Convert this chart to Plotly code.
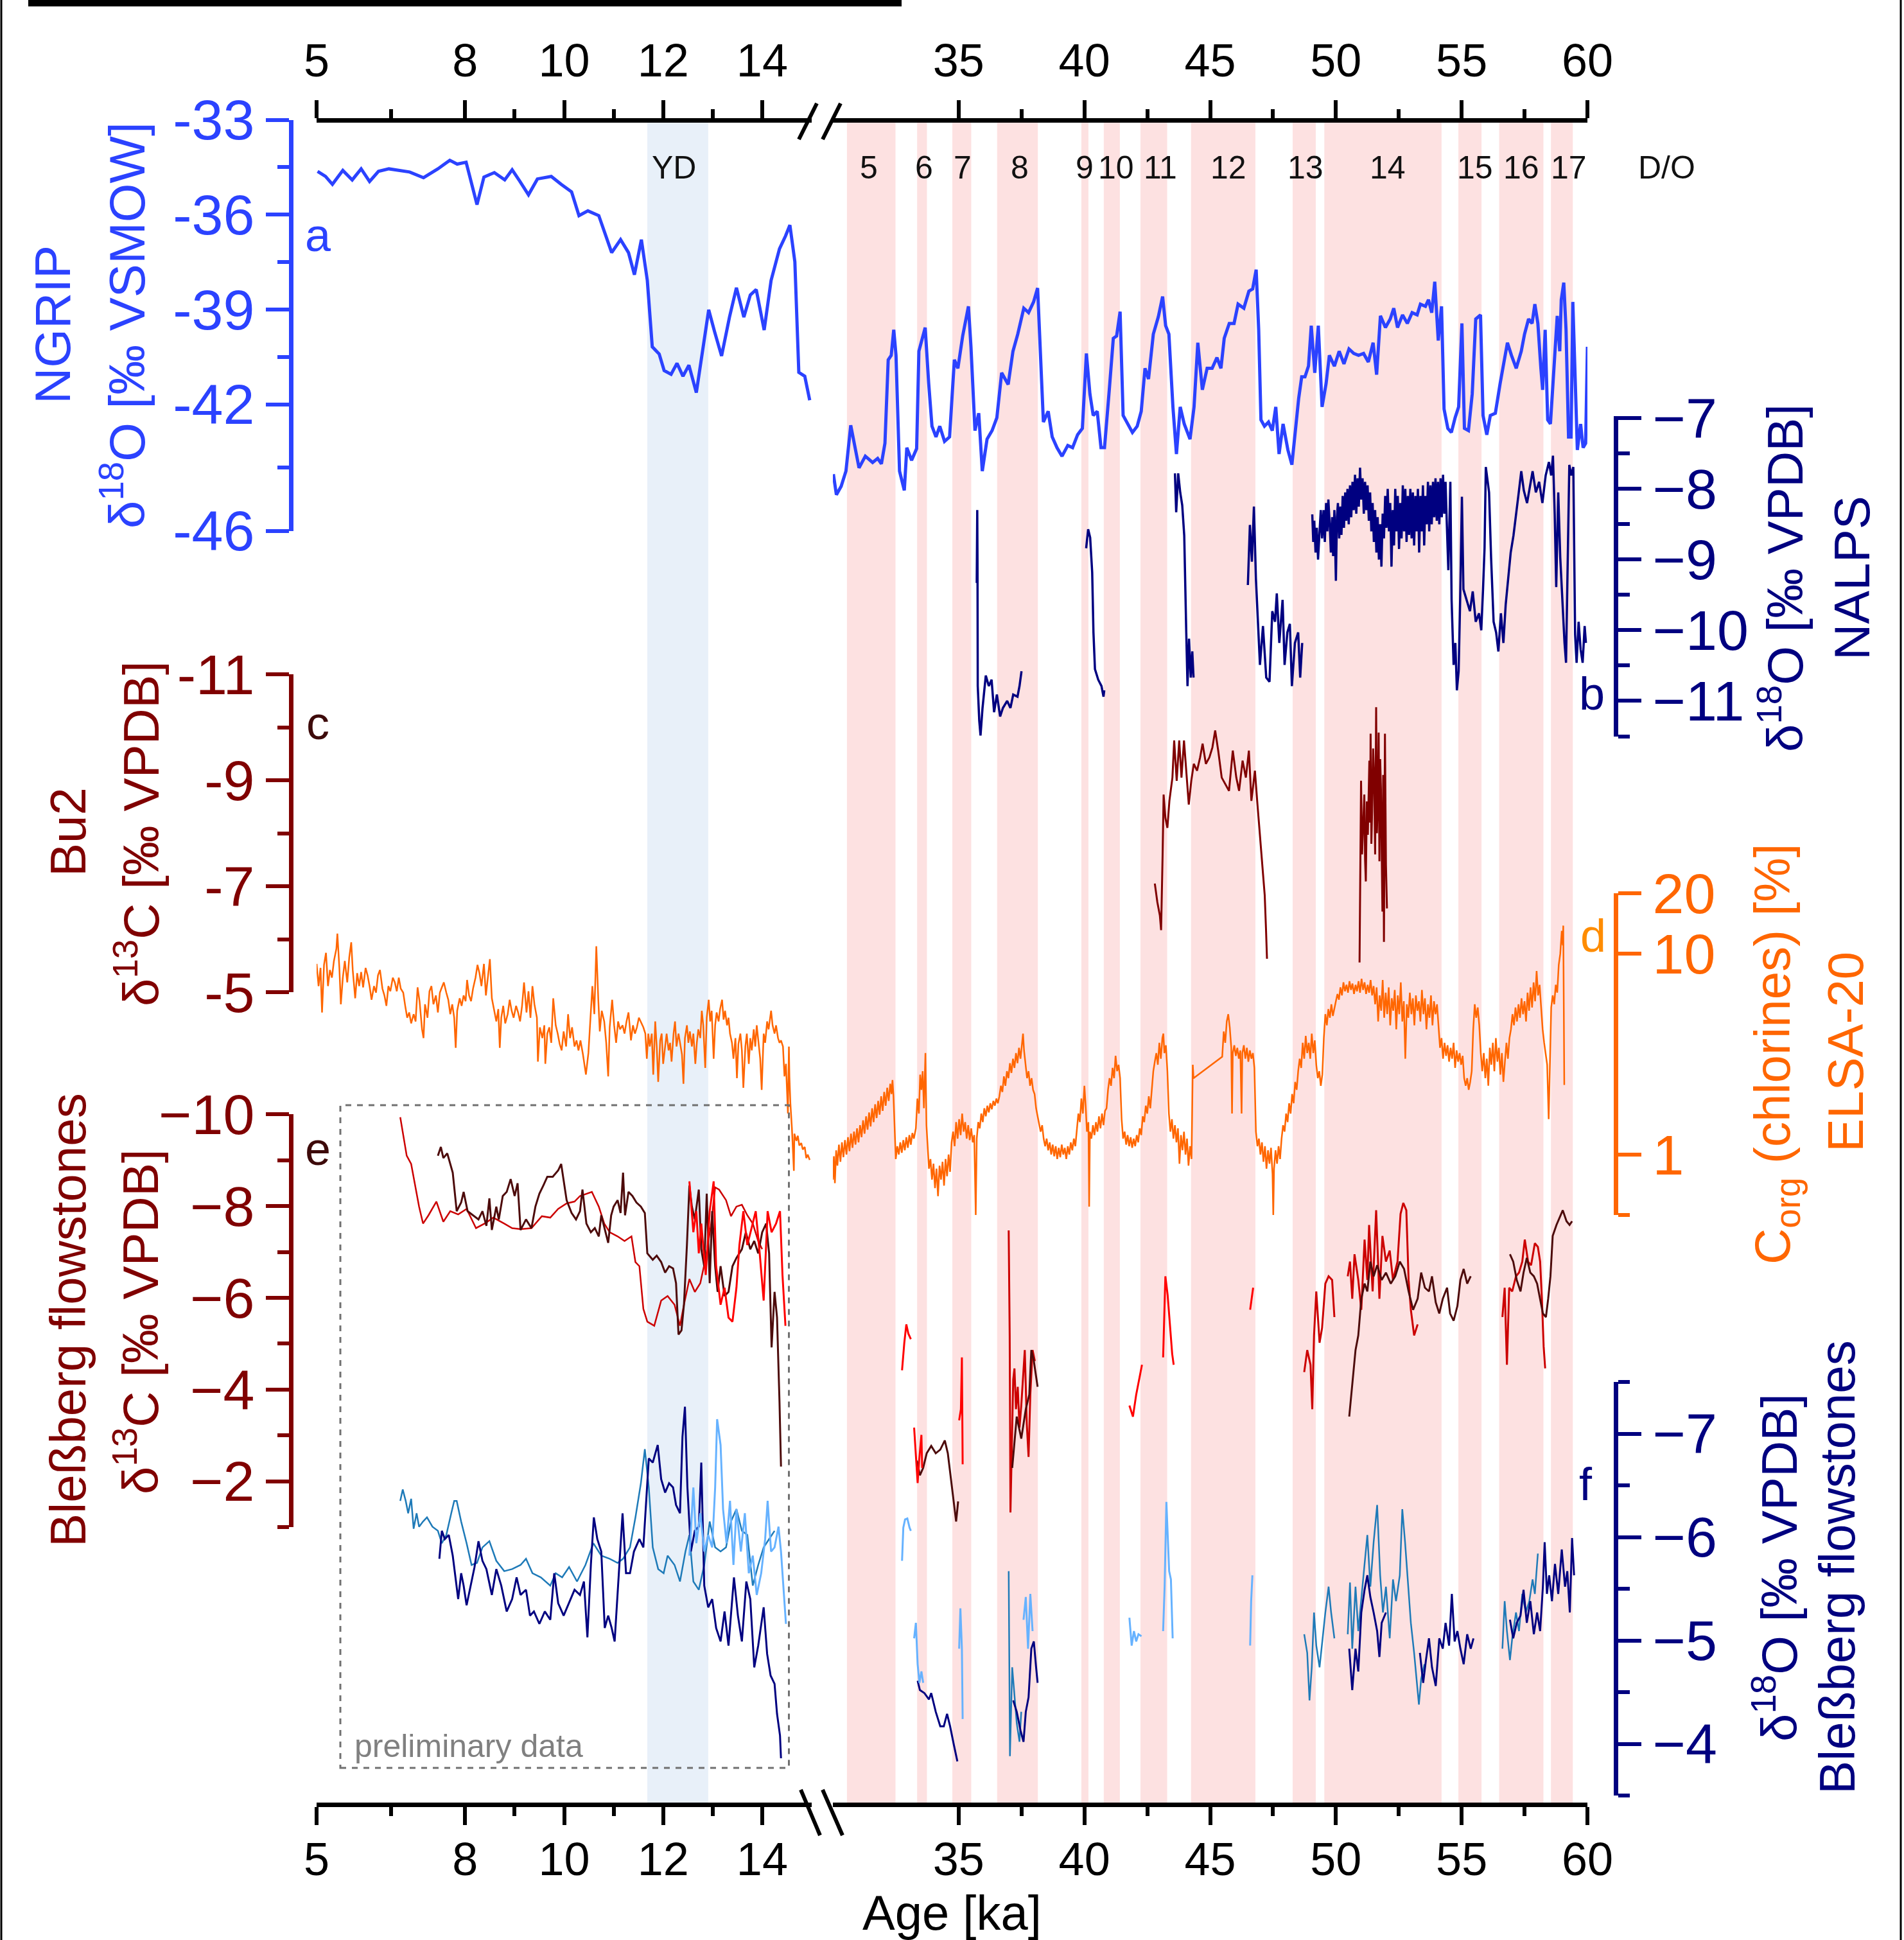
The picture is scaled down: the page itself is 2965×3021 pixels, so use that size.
import plotly.graph_objects as go

# ---------------- DATA (age in ka, value) ----------------
NGRIP_LEFT = [(5.02,-34.63),(5.18,-34.79),(5.32,-35.04),(5.53,-34.6),(5.72,-34.9),(5.9,-34.55),(6.07,-34.95),(6.25,-34.63),(6.46,-34.55),(6.67,-34.6),(6.88,-34.65),(7.16,-34.83),(7.45,-34.55),(7.69,-34.28),(7.84,-34.4),(8.02,-34.34),(8.14,-35.04),(8.24,-35.68),(8.38,-34.81),(8.59,-34.67),(8.8,-34.9),(8.95,-34.58),(9.1,-34.93),(9.28,-35.37),(9.46,-34.87),(9.74,-34.79),(9.94,-35.04),(10.15,-35.28),(10.3,-36.03),(10.48,-35.88),(10.7,-36.03),(10.84,-36.68),(10.96,-37.2),(11.14,-36.79),(11.3,-37.2),(11.42,-37.9),(11.56,-36.79),(11.68,-38.08),(11.78,-40.18),(11.92,-40.41),(12.02,-40.93),(12.16,-41.05),(12.28,-40.7),(12.4,-41.11),(12.52,-40.76),(12.67,-41.63),(12.79,-40.41),(12.92,-39.01),(13.04,-39.71),(13.18,-40.47),(13.34,-39.24),(13.48,-38.31),(13.63,-39.24),(13.76,-38.54),(13.88,-38.37),(14.04,-39.65),(14.18,-38.08),(14.35,-37.08),(14.47,-36.68),(14.56,-36.33),(14.66,-37.49),(14.74,-40.99),(14.86,-41.11),(14.96,-41.87)]

NGRIP_RIGHT = [(30.02,-44.21),(30.14,-44.86),(30.33,-44.59),(30.52,-44.11),(30.71,-42.66),(30.91,-43.44),(31.04,-44.01),(31.29,-43.64),(31.58,-43.84),(31.78,-43.71),(31.93,-43.88),(32.07,-43.23),(32.2,-40.59),(32.32,-40.45),(32.42,-39.64),(32.51,-40.45),(32.65,-44.11),(32.84,-44.72),(32.94,-43.37),(33.13,-43.77),(33.33,-43.4),(33.42,-40.32),(33.56,-39.91),(33.67,-39.57),(33.81,-41.34),(33.94,-42.69),(34.1,-43.03),(34.25,-42.69),(34.44,-43.17),(34.64,-43.03),(34.83,-40.59),(34.97,-40.86),(35.16,-39.84),(35.39,-38.9),(35.49,-40.18),(35.65,-42.83),(35.8,-42.28),(35.94,-44.11),(36.13,-43.1),(36.33,-42.83),(36.52,-42.42),(36.71,-41.0),(36.97,-41.37),(37.16,-40.32),(37.35,-39.78),(37.59,-38.96),(37.78,-39.1),(37.98,-38.76),(38.14,-38.32),(38.27,-40.79),(38.37,-42.56),(38.56,-42.22),(38.72,-43.03),(38.91,-43.37),(39.11,-43.64),(39.34,-43.3),(39.53,-43.37),(39.73,-42.96),(39.92,-42.76),(40.08,-40.39),(40.22,-41.67),(40.35,-42.35),(40.51,-42.22),(40.66,-43.37),(40.8,-43.37),(40.99,-41.54),(41.15,-39.91),(41.28,-39.84),(41.42,-39.07),(41.54,-42.35),(41.71,-42.62),(41.91,-42.89),(42.1,-42.69),(42.26,-42.22),(42.41,-40.86),(42.55,-41.2),(42.74,-39.78),(42.94,-39.23),(43.11,-38.59),(43.23,-39.51),(43.36,-39.78),(43.52,-42.08),(43.66,-43.57),(43.81,-42.08),(43.97,-42.62),(44.2,-43.1),(44.36,-42.08),(44.51,-40.05),(44.69,-41.54),(44.88,-40.86),(45.08,-40.86),(45.27,-40.52),(45.43,-40.86),(45.56,-39.91),(45.76,-39.44),(45.95,-39.44),(46.11,-38.83),(46.34,-38.96),(46.54,-38.42),(46.69,-38.35),(46.83,-37.74),(46.93,-39.64),(47.02,-42.49),(47.16,-42.69),(47.32,-42.56),(47.47,-42.83),(47.61,-42.08),(47.74,-43.57),(47.9,-42.62),(48.09,-43.44),(48.25,-43.91),(48.38,-42.83),(48.52,-41.81),(48.64,-41.13),(48.77,-41.13),(48.91,-40.79),(49.02,-39.51),(49.16,-41.0),(49.3,-39.51),(49.45,-42.08),(49.61,-41.34),(49.74,-40.45),(49.94,-40.79),(50.13,-40.32),(50.32,-40.72),(50.52,-40.25),(50.71,-40.39),(50.9,-40.45),(51.1,-40.39),(51.29,-40.66),(51.48,-40.05),(51.62,-41.06),(51.77,-39.2),(51.97,-39.57),(52.16,-39.3),(52.3,-38.96),(52.45,-39.57),(52.65,-39.17),(52.84,-39.44),(53.03,-39.1),(53.23,-39.17),(53.36,-38.83),(53.56,-38.9),(53.68,-38.69),(53.81,-39.1),(53.93,-38.12),(54.07,-39.98),(54.2,-38.9),(54.3,-42.15),(54.45,-42.76),(54.59,-42.89),(54.74,-42.42),(54.88,-42.08),(55.01,-39.44),(55.11,-42.76),(55.27,-42.83),(55.42,-41.67),(55.56,-39.3),(55.75,-39.17),(55.85,-42.35),(56.0,-42.96),(56.14,-42.35),(56.34,-42.28),(56.53,-41.34),(56.69,-40.66),(56.82,-40.05),(56.98,-40.45),(57.17,-40.86),(57.37,-40.32),(57.5,-39.78),(57.66,-39.3),(57.8,-39.44),(57.91,-38.83),(58.03,-39.44),(58.15,-40.86),(58.22,-41.54),(58.32,-39.64),(58.42,-42.49),(58.53,-42.62),(58.67,-40.66),(58.8,-39.2),(58.9,-40.32),(58.96,-38.69),(59.06,-38.15),(59.15,-39.64),(59.25,-43.03),(59.35,-43.03),(59.42,-38.76),(59.5,-40.66),(59.6,-43.44),(59.73,-42.62),(59.83,-43.37),(59.93,-43.23),(60.0,-40.18)]

NALPS = [(35.72,-9.33),(35.74,-8.3),(35.75,-9.03),(35.76,-10.79),(35.82,-11.28),(35.87,-11.49),(35.95,-11.1),(36.08,-10.64),(36.2,-10.79),(36.31,-10.7),(36.41,-11.16),(36.52,-10.91),(36.65,-11.22),(36.76,-11.1),(36.93,-11.0),(37.06,-11.1),(37.17,-10.91),(37.34,-10.94),(37.42,-10.79),(37.5,-10.58),
         (None,None),
         (40.07,-8.84),(40.15,-8.57),(40.23,-8.69),(40.31,-9.18),(40.36,-10.03),(40.42,-10.55),(40.55,-10.7),(40.68,-10.79),(40.76,-10.94),(40.79,-10.85),
         (None,None),
         (43.6,-7.78),(43.65,-8.33),(43.73,-7.78),(43.81,-8.05),(43.89,-8.23),(43.97,-8.66),(44.05,-10.03),(44.1,-10.79),(44.16,-10.12),(44.23,-10.67),(44.29,-10.3),(44.34,-10.67),
         (None,None),
         (46.5,-9.36),(46.58,-8.51),(46.66,-9.03),(46.74,-8.25),(46.82,-9.27),(46.9,-9.88),(46.98,-10.49),(47.1,-9.94),(47.23,-10.67),(47.36,-10.73),(47.47,-9.73),(47.58,-9.88),(47.65,-9.48),(47.75,-10.18),(47.88,-9.57),(47.96,-10.49),(48.07,-10.03),(48.17,-9.91),(48.25,-10.79),(48.37,-10.18),(48.5,-10.03),(48.58,-10.67),(48.66,-10.18),
         (None,None),
         (49.06,-8.36),(49.10,-8.75),(49.14,-8.45),(49.19,-8.9),(49.24,-8.55),(49.29,-9.0),(49.35,-8.6),(49.40,-8.3),(49.45,-8.7),(49.51,-8.3),(49.56,-8.75),(49.61,-8.2),(49.66,-8.6),(49.70,-8.15),(49.76,-8.55),(49.80,-8.9),(49.85,-8.4),(49.89,-8.95),(49.94,-8.3),(50.0,-9.3),(50.04,-8.4),(50.08,-8.2),(50.13,-8.7),(50.18,-8.25),(50.22,-8.65),(50.27,-8.1),(50.32,-8.55),(50.37,-8.05),(50.41,-8.45),(50.46,-8.0),(50.51,-8.5),(50.56,-7.95),(50.61,-8.4),(50.66,-7.9),(50.71,-8.3),(50.76,-7.8),(50.81,-8.35),(50.86,-7.85),(50.91,-8.25),(50.96,-7.7),(51.01,-8.15),(51.06,-7.85),(51.11,-8.35),(51.16,-7.9),(51.21,-8.3),(51.26,-7.95),(51.31,-8.45),(51.36,-8.05),(51.41,-8.6),(51.46,-8.2),(51.51,-8.75),(51.56,-8.3),(51.61,-8.9),(51.66,-8.4),(51.71,-9.0),(51.76,-8.5),(51.81,-9.1),(51.86,-8.35),(51.91,-8.7),(51.96,-8.1),(52.01,-8.55),(52.06,-8.0),(52.11,-8.6),(52.16,-8.2),(52.21,-9.1),(52.26,-8.3),(52.31,-8.8),(52.36,-8.0),(52.41,-8.6),(52.46,-8.1),(52.51,-8.85),(52.56,-8.2),(52.61,-8.7),(52.66,-7.95),(52.71,-8.6),(52.76,-8.0),(52.81,-8.75),(52.86,-8.1),(52.91,-8.65),(52.96,-8.0),(53.01,-8.7),(53.06,-8.05),(53.11,-8.8),(53.16,-8.1),(53.21,-8.6),(53.26,-8.0),(53.31,-8.9),(53.36,-8.1),(53.41,-8.6),(53.46,-7.95),(53.51,-8.8),(53.56,-8.1),(53.61,-8.5),(53.66,-7.9),(53.71,-8.6),(53.76,-7.95),(53.81,-8.5),(53.86,-7.9),(53.91,-8.4),(53.96,-7.85),(54.01,-8.45),(54.06,-7.9),(54.11,-8.5),(54.16,-7.85),(54.21,-8.4),(54.26,-7.8),(54.31,-8.35),(54.36,-7.9),(54.41,-8.5),(54.47,-9.15),(54.55,-7.9),(54.6,-9.57),(54.68,-10.49),(54.75,-10.18),(54.81,-10.85),(54.88,-10.58),(54.94,-9.57),(55.01,-8.11),(55.07,-9.42),(55.2,-9.57),(55.33,-9.73),(55.44,-9.45),(55.56,-9.88),(55.69,-9.76),(55.78,-10.0),(55.85,-9.42),(55.91,-8.84),(55.96,-7.69),(56.03,-7.9),(56.09,-8.05),(56.17,-8.97),(56.27,-9.88),(56.37,-10.03),(56.46,-10.3),(56.56,-9.76),(56.66,-10.18),(56.75,-9.64),(56.85,-9.27),(56.95,-8.9),(57.06,-8.66),(57.17,-8.36),(57.27,-8.05),(57.37,-7.75),(57.47,-8.02),(57.6,-8.2),(57.71,-7.99),(57.82,-7.75),(57.95,-8.05),(58.08,-7.9),(58.21,-8.2),(58.34,-7.81),(58.47,-7.62),(58.56,-7.81),(58.63,-7.53),(58.7,-8.36),(58.76,-9.39),(58.84,-8.05),(58.92,-8.97),(59.0,-9.57),(59.09,-10.18),(59.15,-10.46),(59.22,-9.15),(59.28,-7.66),(59.36,-7.81),(59.44,-7.69),(59.51,-10.06),(59.57,-10.46),(59.65,-9.88),(59.73,-10.27),(59.81,-10.46),(59.89,-9.94),(59.94,-10.18)]

BU2 = [(42.8,-7.05),(42.9,-6.7),(43.0,-6.45),(43.05,-6.17),(43.11,-7.59),(43.15,-8.73),(43.22,-8.29),(43.3,-8.1),(43.38,-8.61),(43.5,-9.05),(43.57,-9.75),(43.67,-8.99),(43.77,-9.75),(43.86,-9.05),(43.96,-9.75),(44.06,-9.12),(44.15,-8.54),(44.25,-8.99),(44.35,-9.31),(44.48,-9.18),(44.6,-9.43),(44.7,-9.69),(44.83,-9.31),(44.97,-9.43),(45.09,-9.62),(45.2,-9.94),(45.32,-9.56),(45.46,-9.05),(45.61,-8.92),(45.75,-8.8),(45.9,-9.56),(46.04,-9.05),(46.15,-8.8),(46.29,-9.37),(46.42,-9.05),(46.54,-9.56),(46.64,-8.61),(46.78,-9.18),(46.87,-8.61),(46.97,-8.04),(47.07,-7.47),(47.17,-6.83),(47.22,-6.2),(47.26,-5.63),
       (None,None),
       (50.94,-5.56),(51.0,-8.99),(51.04,-7.6),(51.08,-8.1),(51.13,-8.73),(51.16,-7.5),(51.19,-7.09),(51.23,-8.6),(51.27,-7.97),(51.33,-9.37),(51.36,-8.2),(51.38,-9.88),(51.41,-7.8),(51.44,-8.42),(51.48,-9.6),(51.52,-9.05),(51.56,-7.6),(51.6,-10.38),(51.63,-8.0),(51.67,-8.73),(51.7,-9.9),(51.73,-7.47),(51.76,-9.4),(51.79,-8.86),(51.82,-7.2),(51.85,-6.52),(51.88,-9.1),(51.91,-5.95),(51.95,-9.88),(51.99,-7.4),(52.03,-6.58)]

ELSA_LEFT = [(5.00,8.9),(5.04,6.9),(5.08,8.5),(5.11,5.1),(5.15,8.8),(5.19,10.1),(5.23,6.9),(5.27,8.3),(5.31,7.6),(5.35,9.2),(5.40,10.6),(5.42,12.6),(5.46,8.5),(5.49,5.6),(5.53,7.6),(5.57,9.2),(5.62,7.2),(5.66,9.6),(5.70,11.4),(5.73,8.3),(5.78,6.0),(5.82,8.0),(5.86,6.9),(5.90,8.1),(5.94,6.8),(5.99,8.5),(6.03,7.8),(6.07,6.9),(6.11,5.9),(6.16,6.9),(6.20,6.4),(6.24,7.8),(6.28,8.3),(6.33,6.7),(6.37,6.2),(6.41,5.5),(6.45,6.9),(6.49,6.5),(6.54,7.6),(6.58,7.2),(6.62,6.5),(6.66,7.6),(6.70,6.7),(6.75,6.4),(6.79,5.5),(6.83,4.8),(6.87,5.1),(6.91,4.5),(6.96,5.0),(7.00,4.6),(7.04,6.8),(7.08,5.8),(7.13,4.2),(7.16,3.8),(7.19,5.6),(7.24,4.8),(7.28,6.5),(7.32,6.9),(7.36,5.6),(7.41,6.2),(7.45,5.1),(7.49,6.4),(7.53,6.8),(7.57,7.2),(7.62,6.4),(7.66,5.9),(7.70,5.0),(7.74,5.6),(7.78,4.8),(7.81,3.4),(7.84,5.2),(7.89,6.0),(7.93,5.5),(7.97,6.2),(8.01,5.8),(8.04,7.4),(8.08,6.2),(8.12,5.8),(8.16,6.7),(8.21,7.6),(8.25,8.8),(8.29,8.0),(8.33,6.9),(8.38,8.9),(8.42,6.2),(8.46,7.6),(8.50,9.4),(8.54,6.0),(8.59,5.1),(8.63,4.6),(8.67,5.3),(8.70,3.4),(8.73,4.8),(8.77,5.5),(8.81,4.5),(8.86,5.0),(8.90,5.9),(8.94,5.2),(8.98,4.8),(9.03,5.5),(9.07,5.1),(9.11,4.6),(9.15,5.5),(9.19,7.2),(9.24,5.1),(9.28,6.5),(9.32,4.8),(9.36,6.9),(9.40,5.6),(9.45,4.8),(9.47,2.9),(9.51,4.3),(9.56,3.8),(9.60,4.4),(9.62,2.83),(9.66,4.0),(9.70,4.3),(9.74,3.6),(9.78,6.0),(9.83,4.4),(9.87,4.0),(9.91,3.55),(9.95,3.3),(9.99,4.1),(10.04,3.45),(10.08,5.0),(10.12,3.8),(10.16,4.3),(10.21,3.45),(10.25,3.7),(10.29,3.3),(10.33,3.7),(10.38,3.15),(10.42,2.7),(10.44,2.5),(10.49,3.2),(10.53,4.8),(10.57,6.9),(10.61,5.0),(10.65,10.9),(10.69,5.9),(10.72,4.1),(10.76,5.2),(10.81,4.6),(10.85,3.6),(10.89,2.45),(10.92,4.3),(10.97,5.9),(11.01,4.4),(11.05,3.6),(11.09,4.6),(11.13,4.2),(11.18,4.4),(11.22,4.0),(11.26,4.6),(11.30,5.1),(11.35,3.7),(11.39,4.4),(11.43,4.0),(11.47,4.3),(11.51,4.8),(11.56,4.5),(11.60,4.3),(11.64,4.0),(11.67,3.0),(11.70,4.0),(11.73,3.45),(11.77,4.0),(11.80,2.5),(11.84,4.6),(11.87,3.45),(11.90,2.3),(11.94,3.7),(11.97,4.0),(12.00,2.83),(12.04,3.45),(12.07,4.0),(12.11,3.3),(12.14,3.6),(12.17,2.9),(12.21,4.0),(12.24,4.6),(12.27,3.45),(12.31,4.0),(12.34,3.6),(12.38,3.15),(12.41,2.25),(12.44,3.8),(12.48,4.4),(12.51,3.6),(12.54,4.1),(12.58,3.45),(12.61,4.0),(12.65,2.83),(12.68,3.6),(12.71,4.2),(12.75,3.8),(12.78,5.2),(12.81,4.4),(12.85,2.7),(12.88,4.8),(12.92,5.9),(12.95,4.6),(12.98,5.2),(13.02,3.0),(13.05,4.4),(13.08,5.1),(13.12,4.6),(13.15,5.3),(13.19,5.9),(13.22,4.7),(13.25,5.2),(13.29,4.4),(13.32,4.8),(13.35,4.0),(13.39,3.6),(13.42,3.0),(13.46,3.8),(13.49,2.4),(13.52,3.55),(13.56,4.0),(13.59,3.3),(13.62,2.15),(13.66,3.45),(13.69,4.0),(13.73,2.83),(13.76,3.8),(13.79,3.3),(13.83,4.2),(13.86,3.45),(13.89,4.4),(13.93,3.6),(13.96,3.0),(13.99,2.1),(14.03,4.0),(14.06,3.6),(14.10,4.6),(14.13,4.2),(14.16,4.7),(14.18,5.2),(14.21,4.4),(14.25,4.0),(14.28,4.4),(14.32,3.8),(14.35,3.6),(14.38,3.7),(14.42,3.45),(14.45,2.45),(14.48,2.83),(14.50,2.21),(14.52,1.6),(14.54,3.45),(14.55,2.45),(14.57,1.8),(14.60,1.36),(14.64,0.83),(14.65,1.27),(14.69,1.17),(14.72,1.24),(14.75,1.11),(14.79,1.14),(14.82,1.06),(14.86,1.09),(14.89,0.96),(14.92,1.0),(14.96,0.94)]

ELSA_RIGHT = [(30.00,0.75),(30.04,0.98),(30.08,0.72),(30.13,1.05),(30.18,0.88),(30.24,1.12),(30.30,0.92),(30.36,1.15),(30.42,0.97),(30.48,1.18),(30.54,1.00),(30.60,1.22),(30.66,1.04),(30.72,1.27),(30.78,1.08),(30.84,1.30),(30.90,1.12),(30.96,1.35),(31.02,1.15),(31.08,1.40),(31.14,1.22),(31.20,1.48),(31.26,1.27),(31.32,1.55),(31.38,1.33),(31.44,1.62),(31.50,1.38),(31.56,1.70),(31.62,1.45),(31.68,1.78),(31.74,1.52),(31.80,1.85),(31.86,1.58),(31.92,1.95),(31.98,1.65),(32.04,2.05),(32.10,1.75),(32.16,2.15),(32.22,1.85),(32.28,2.25),(32.33,2.00),(32.37,2.35),(32.41,1.95),(32.46,1.20),(32.50,0.95),(32.56,1.10),(32.62,1.00),(32.68,1.15),(32.74,1.02),(32.80,1.18),(32.86,1.05),(32.92,1.22),(32.98,1.08),(33.04,1.25),(33.10,1.12),(33.16,1.28),(33.22,1.20),(33.30,1.35),(33.36,1.90),(33.42,1.60),(33.47,2.50),(33.52,2.10),(33.57,2.60),(33.62,1.70),(33.68,3.20),(33.72,1.40),(33.76,1.10),(33.82,0.85),(33.88,0.95),(33.94,0.75),(34.00,0.90),(34.06,0.68),(34.12,0.85),(34.18,0.62),(34.24,0.88),(34.30,0.75),(34.36,0.92),(34.42,0.70),(34.48,0.95),(34.54,0.78),(34.60,1.00),(34.66,0.82),(34.72,1.15),(34.78,1.30),(34.84,1.10),(34.90,1.45),(34.96,1.20),(35.02,1.50),(35.08,1.25),(35.14,1.60),(35.20,1.30),(35.26,1.45),(35.32,1.20),(35.38,1.40),(35.44,1.18),(35.50,1.35),(35.56,1.15),(35.62,1.25),(35.68,0.50),(35.72,1.20),(35.78,1.45),(35.84,1.35),(35.90,1.60),(35.96,1.45),(36.02,1.70),(36.08,1.55),(36.14,1.75),(36.20,1.62),(36.26,1.80),(36.32,1.68),(36.38,1.85),(36.44,1.75),(36.50,1.90),(36.56,1.80),(36.62,1.95),(36.68,2.20),(36.74,2.05),(36.80,2.45),(36.86,2.20),(36.92,2.60),(36.98,2.40),(37.04,2.85),(37.10,2.55),(37.16,3.00),(37.22,2.70),(37.28,3.20),(37.34,2.85),(37.40,3.40),(37.46,3.00),(37.52,3.60),(37.56,4.00),(37.60,3.30),(37.66,2.80),(37.72,2.40),(37.78,2.60),(37.84,2.20),(37.90,2.40),(37.96,2.10),(38.02,2.00),(38.08,1.70),(38.14,1.55),(38.20,1.40),(38.26,1.30),(38.32,1.40),(38.38,1.20),(38.44,1.10),(38.50,1.20),(38.56,1.05),(38.62,1.15),(38.68,1.00),(38.74,1.12),(38.80,0.98),(38.86,1.10),(38.92,0.95),(38.98,1.08),(39.04,0.97),(39.10,1.12),(39.16,1.00),(39.22,1.08),(39.28,0.95),(39.34,1.10),(39.40,1.00),(39.46,1.15),(39.52,1.05),(39.58,1.20),(39.64,1.10),(39.70,1.35),(39.76,1.60),(39.82,1.45),(39.88,1.90),(39.94,1.60),(40.00,2.20),(40.05,1.75),(40.10,1.30),(40.16,1.45),(40.19,0.55),(40.22,1.30),(40.28,1.20),(40.34,1.40),(40.40,1.25),(40.46,1.45),(40.52,1.30),(40.58,1.55),(40.64,1.35),(40.70,1.60),(40.76,1.40),(40.82,1.65),(40.88,1.70),(40.94,2.10),(41.00,2.40),(41.06,2.20),(41.12,2.70),(41.18,2.40),(41.24,3.10),(41.30,2.60),(41.36,2.80),(41.42,2.40),(41.48,1.50),(41.54,1.20),(41.60,1.30),(41.66,1.12),(41.72,1.25),(41.78,1.10),(41.84,1.22),(41.90,1.08),(41.96,1.20),(42.02,1.10),(42.08,1.25),(42.14,1.15),(42.20,1.35),(42.26,1.25),(42.32,1.55),(42.38,1.45),(42.44,1.75),(42.50,1.60),(42.56,1.95),(42.62,1.70),(42.68,2.10),(42.74,2.60),(42.80,2.90),(42.86,3.20),(42.92,2.80),(42.98,3.60),(43.04,3.00),(43.10,3.80),(43.14,4.00),(43.18,3.20),(43.24,3.50),(43.30,2.60),(43.36,1.60),(43.42,1.30),(43.48,1.50),(43.54,1.20),(43.60,1.40),(43.66,1.15),(43.72,1.35),(43.78,0.90),(43.84,1.25),(43.90,1.05),(43.96,1.30),(44.02,1.00),(44.08,1.20),(44.14,0.88),(44.20,1.10),(44.26,0.95),(44.31,2.80),(44.34,2.40),(45.48,3.07),(45.54,4.10),(45.60,3.60),(45.66,4.60),(45.72,5.00),(45.78,4.30),(45.84,3.40),(45.87,1.60),(45.90,3.20),(45.96,3.50),(46.02,3.10),(46.08,3.40),(46.14,3.00),(46.20,3.30),(46.25,1.60),(46.28,3.20),(46.34,3.50),(46.40,3.00),(46.46,3.40),(46.52,2.90),(46.58,3.30),(46.64,3.00),(46.70,3.20),(46.76,2.70),(46.82,1.30),(46.88,1.10),(46.94,1.20),(47.00,1.00),(47.06,1.15),(47.12,0.92),(47.18,1.10),(47.24,0.85),(47.30,1.05),(47.36,0.90),(47.42,1.08),(47.48,0.80),(47.51,0.50),(47.54,0.85),(47.60,1.05),(47.66,0.90),(47.72,1.10),(47.78,0.95),(47.84,1.20),(47.90,1.40),(47.96,1.30),(48.02,1.60),(48.08,1.45),(48.14,1.80),(48.20,1.60),(48.26,2.00),(48.32,1.80),(48.38,2.30),(48.44,2.10),(48.50,2.60),(48.56,3.00),(48.62,2.70),(48.68,3.60),(48.74,3.00),(48.80,3.90),(48.86,3.20),(48.92,3.60),(48.98,3.00),(49.04,4.00),(49.10,3.20),(49.16,3.70),(49.22,2.80),(49.28,2.40),(49.34,2.60),(49.40,2.20),(49.46,2.50),(49.52,3.80),(49.58,5.00),(49.64,4.40),(49.70,5.30),(49.76,4.80),(49.82,5.60),(49.88,4.90),(49.94,5.40),(50.00,5.80),(50.06,6.30),(50.12,5.90),(50.18,6.80),(50.24,6.20),(50.30,7.20),(50.36,6.50),(50.42,7.00),(50.48,6.40),(50.54,7.30),(50.60,6.60),(50.66,7.10),(50.72,6.30),(50.78,7.00),(50.84,6.50),(50.90,7.30),(50.96,6.40),(51.02,7.50),(51.08,6.60),(51.14,7.20),(51.20,6.30),(51.26,7.00),(51.32,6.40),(51.38,7.40),(51.44,6.20),(51.50,6.90),(51.56,5.60),(51.62,6.80),(51.68,4.60),(51.74,6.20),(51.80,5.20),(51.86,7.40),(51.92,4.80),(51.98,6.40),(52.04,5.00),(52.10,6.80),(52.16,4.40),(52.22,6.00),(52.28,5.20),(52.34,6.60),(52.40,4.20),(52.46,6.20),(52.52,5.00),(52.58,7.20),(52.64,4.60),(52.70,5.80),(52.76,3.00),(52.82,5.60),(52.88,4.80),(52.94,6.40),(53.00,5.00),(53.06,6.00),(53.12,4.40),(53.18,6.20),(53.24,5.20),(53.30,5.80),(53.36,4.60),(53.42,6.60),(53.48,5.00),(53.54,6.00),(53.60,4.20),(53.66,5.60),(53.72,4.80),(53.78,6.20),(53.84,4.40),(53.90,5.80),(53.96,5.00),(54.02,5.60),(54.08,4.20),(54.14,3.40),(54.20,3.80),(54.26,3.00),(54.32,3.60),(54.38,3.10),(54.44,3.50),(54.50,2.90),(54.56,3.40),(54.62,3.00),(54.68,3.60),(54.74,2.70),(54.80,3.30),(54.86,2.90),(54.92,3.20),(54.98,2.80),(55.04,3.10),(55.10,2.40),(55.16,2.20),(55.22,2.40),(55.28,2.10),(55.34,2.30),(55.40,2.60),(55.46,4.20),(55.52,5.60),(55.58,4.80),(55.64,5.40),(55.70,4.40),(55.76,3.20),(55.82,2.60),(55.88,3.20),(55.94,2.40),(56.00,3.00),(56.06,2.20),(56.12,3.40),(56.18,2.80),(56.24,3.60),(56.30,2.60),(56.36,3.80),(56.42,2.90),(56.48,3.40),(56.54,2.50),(56.60,3.20),(56.66,2.30),(56.72,2.90),(56.78,3.60),(56.84,3.00),(56.90,3.80),(56.96,4.20),(57.02,5.00),(57.08,4.40),(57.14,5.40),(57.20,4.60),(57.26,5.60),(57.32,4.80),(57.38,6.00),(57.44,5.00),(57.50,5.80),(57.56,4.60),(57.62,6.40),(57.68,5.20),(57.74,6.80),(57.80,5.40),(57.86,7.20),(57.92,5.80),(57.98,8.20),(58.04,6.20),(58.10,7.00),(58.16,5.40),(58.22,4.20),(58.28,3.60),(58.34,3.20),(58.40,2.80),(58.46,1.50),(58.50,2.80),(58.56,5.40),(58.62,6.20),(58.68,5.60),(58.74,7.00),(58.80,6.40),(58.86,8.80),(58.92,10.0),(58.98,13.0),(59.02,11.0),(59.04,13.8),(59.06,6.00),(59.08,2.22)]

# Blessberg d13C (panel e)
BL_C_RED_L = [(6.69,-9.94),(6.82,-9.1),(6.91,-8.92),(6.99,-8.45),(7.07,-7.99),(7.15,-7.62),(7.26,-7.8),(7.42,-8.1),(7.56,-7.66),(7.7,-7.89),(7.86,-7.82),(8.03,-7.94),(8.22,-7.52),(8.41,-7.63),(8.57,-7.75),(8.79,-7.62),(8.95,-7.52),(9.12,-7.5),(9.34,-7.52),(9.55,-7.78),(9.72,-7.75),(9.88,-7.94),(10.05,-8.06),(10.21,-8.1),(10.32,-8.22),(10.56,-8.31),(10.7,-7.99),(10.81,-7.62),(10.92,-7.43),(11.08,-7.34),(11.22,-7.24),(11.36,-7.34),(11.44,-6.78),(11.52,-6.69),(11.6,-5.76),(11.68,-5.48),(11.82,-5.39),(11.96,-5.94),(12.09,-6.04),(12.23,-5.85),(12.34,-5.39),(12.42,-5.85),(12.53,-6.41),(12.64,-6.13),(12.75,-6.32),(12.86,-6.87),(12.97,-7.62),(13.05,-8.41),(13.13,-8.36),(13.27,-8.13),(13.37,-7.78),(13.48,-7.99),(13.59,-8.03),(13.7,-7.8),(13.81,-7.62),(13.92,-7.24),(14.0,-7.06)]
BL_C_BRED_L = [(12.53,-8.54),(12.61,-7.43),(12.67,-7.89),(12.72,-6.97),(12.77,-7.62),(12.86,-6.5),(12.94,-7.89),(13.02,-8.54),(13.07,-6.69),(13.16,-5.85),(13.24,-6.22),(13.32,-5.57),(13.4,-5.48),(13.48,-6.22),(13.54,-7.15),(13.62,-7.89),(13.7,-7.15),(13.78,-7.52),(13.87,-7.89),(13.95,-6.97),(14.03,-5.94),(14.11,-7.89),(14.19,-7.43),(14.28,-7.62),(14.36,-7.89),(14.41,-6.5),(14.47,-5.39)]
BL_C_BROWN_L = [(7.45,-9.1),(7.51,-9.29),(7.56,-9.05),(7.64,-9.15),(7.75,-8.73),(7.83,-7.89),(7.92,-8.08),(7.97,-8.31),(8.05,-7.89),(8.16,-7.8),(8.27,-7.71),(8.35,-7.89),(8.43,-7.57),(8.49,-8.17),(8.54,-7.48),(8.63,-7.99),(8.68,-7.71),(8.76,-8.22),(8.84,-8.31),(8.92,-8.59),(9.0,-8.22),(9.06,-8.5),(9.12,-7.48),(9.23,-7.71),(9.34,-7.52),(9.42,-7.99),(9.5,-8.27),(9.58,-8.45),(9.66,-8.64),(9.77,-8.64),(9.88,-8.78),(9.94,-8.92),(9.99,-8.54),(10.05,-8.13),(10.15,-7.85),(10.24,-7.71),(10.32,-7.89),(10.37,-8.36),(10.45,-7.62),(10.54,-7.43),(10.62,-7.52),(10.7,-7.34),(10.75,-7.8),(10.84,-7.43),(10.89,-7.2),(10.95,-7.8),(11.0,-7.99),(11.08,-8.13),(11.14,-7.85),(11.19,-8.73),(11.23,-7.8),(11.3,-8.31),(11.38,-8.22),(11.46,-8.08),(11.55,-7.99),(11.63,-7.85),(11.68,-6.97),(11.79,-6.83),(11.87,-6.92),(11.96,-6.78),(12.04,-6.55),(12.12,-6.69),(12.2,-6.64),(12.26,-6.32),(12.31,-5.2),(12.37,-5.29),(12.42,-5.85),(12.48,-7.15),(12.53,-8.45),(12.58,-7.99),(12.64,-7.71),(12.72,-8.36),(12.77,-7.06),(12.83,-6.69),(12.88,-8.27),(12.94,-6.32),(12.99,-7.89),(13.05,-6.69),(13.1,-6.13),(13.16,-6.69),(13.24,-6.04),(13.32,-6.13),(13.4,-6.69),(13.48,-6.87),(13.59,-7.06),(13.67,-7.43),(13.76,-7.06),(13.84,-7.24),(13.92,-6.97),(14.0,-7.43),(14.08,-7.62),(14.14,-6.97),(14.19,-4.92),(14.25,-6.13),(14.3,-5.57),(14.35,-3.72),(14.38,-2.32)]
BL_C_BRED_R = [(32.75,-4.42),(32.84,-5.02),(32.92,-5.42),(33.0,-5.22),(33.1,-5.1),(None,None),
               (33.23,-3.17),(33.3,-2.61),(33.37,-1.96),(33.43,-2.45),(33.52,-3.01),(33.55,-2.29),(None,None),
               (35.02,-3.33),(35.09,-3.57),(35.13,-4.7),(35.16,-2.37),(None,None),
               (41.79,-3.65),(41.93,-3.41),(42.06,-3.89),(42.18,-4.22),(42.29,-4.54),(None,None),
               (43.13,-4.7),(43.22,-6.47),(43.31,-6.06),(43.4,-5.42),(43.49,-4.78),(43.55,-4.54),(None,None),
               (46.59,-5.74),(46.66,-6.06),(46.71,-6.22)]
BL_C_RED_R = [(36.99,-7.47),(37.03,-5.18),(37.06,-1.32),(37.1,-2.29),(37.17,-4.22),(37.22,-4.46),(37.28,-3.57),(37.35,-4.06),(37.42,-3.17),(37.49,-3.65),(37.58,-4.54),(37.63,-4.86),(37.71,-3.25),(37.78,-2.53),(37.85,-3.89),(37.94,-4.86),(38.03,-4.62),(None,None),
              (48.74,-4.38),(48.86,-4.86),(48.99,-4.54),(49.06,-3.57),(49.13,-5.18),(49.22,-6.14),(49.35,-5.02),(49.45,-5.34),(49.58,-6.31),(49.71,-6.47),(49.85,-6.39),(49.94,-5.58),(None,None),
              (50.47,-6.47),(50.56,-6.79),(50.65,-5.98),(50.74,-6.95),(50.89,-6.39),(51.01,-5.74),(51.14,-7.27),(51.25,-6.39),(51.32,-7.59),(51.46,-6.14),(51.6,-7.91),(51.73,-5.98),(51.85,-7.35),(51.99,-6.79),(52.14,-7.03),(52.27,-6.39),(52.45,-6.79),(52.57,-7.83),(52.68,-8.07),(52.8,-7.91),(52.89,-6.39),(52.98,-5.74),(53.11,-5.18),(53.25,-5.42),(None,None),
              (56.62,-5.58),(56.71,-6.22),(56.8,-4.54),(56.89,-6.22),(57.01,-6.14),(57.16,-6.47),(57.28,-6.55),(57.41,-6.79),(57.51,-7.27),(57.64,-6.79),(57.76,-6.71),(57.91,-7.19),(58.03,-7.11),(58.12,-6.79),(58.19,-5.98),(58.26,-4.94),(58.32,-4.46)]
BL_C_BROWN_R = [(33.34,-2.45),(33.46,-2.13),(33.59,-2.29),(33.73,-2.61),(33.91,-2.77),(34.09,-2.61),(34.27,-2.69),(34.45,-2.89),(34.57,-2.61),(34.72,-1.96),(34.81,-1.56),(34.9,-1.12),(34.98,-1.56),(None,None),
                (37.13,-2.29),(37.31,-3.41),(37.49,-2.93),(37.67,-3.57),(37.81,-3.89),(37.89,-4.86),(37.99,-4.62),(38.06,-4.38),(38.14,-4.06),(None,None),
                (50.53,-3.41),(50.65,-4.06),(50.78,-4.86),(50.89,-5.18),(51.01,-5.98),(51.14,-6.31),(51.25,-6.14),(51.37,-6.79),(51.5,-6.47),(51.64,-6.71),(51.82,-6.39),(51.99,-6.55),(52.18,-6.31),(52.36,-6.47),(52.54,-6.79),(52.71,-6.63),(52.89,-6.14),(53.07,-5.74),(53.25,-5.98),(53.39,-6.55),(53.54,-6.22),(53.7,-6.14),(53.82,-6.47),(53.97,-5.9),(54.11,-5.66),(54.25,-5.98),(54.42,-6.22),(54.54,-5.66),(54.68,-5.5),(54.83,-5.82),(54.95,-6.39),(55.08,-6.63),(55.22,-6.31),(55.36,-6.47),(None,None),
                (56.92,-6.95),(57.05,-6.79),(57.19,-6.39),(57.34,-6.14),(57.46,-6.55),(57.59,-6.87),(57.73,-6.55),(57.87,-6.47),(58.0,-6.31),(58.12,-5.98),(58.23,-5.66),(58.35,-5.58),(58.44,-5.98),(58.53,-6.47),(58.62,-7.35),(58.77,-7.59),(58.89,-7.75),(59.02,-7.91),(59.17,-7.67),(59.29,-7.59),(59.39,-7.67)]

# Blessberg d18O (panel f)
BL_O_TEAL_L = [(6.69,-6.35),(6.74,-6.46),(6.8,-6.35),(6.85,-6.23),(6.91,-6.37),(6.96,-6.08),(7.02,-6.23),(7.07,-6.1),(7.15,-6.15),(7.23,-6.19),(7.34,-6.1),(7.45,-6.06),(7.53,-5.94),(7.62,-6.02),(7.72,-6.23),(7.78,-6.35),(7.83,-6.35),(7.92,-6.15),(8.03,-5.94),(8.13,-5.73),(8.24,-5.75),(8.35,-5.9),(8.49,-5.96),(8.63,-5.77),(8.79,-5.67),(8.95,-5.69),(9.12,-5.73),(9.23,-5.79),(9.36,-5.65),(9.53,-5.61),(9.72,-5.53),(9.83,-5.65),(9.96,-5.61),(10.1,-5.71),(10.26,-5.57),(10.43,-5.73),(10.59,-5.94),(10.75,-5.82),(10.92,-5.79),(11.08,-5.75),(11.19,-5.79),(11.33,-5.9),(11.44,-6.19),(11.55,-6.52),(11.63,-6.85),(11.71,-6.48),(11.79,-5.9),(11.9,-5.69),(12.01,-5.65),(12.09,-5.82),(12.23,-5.73),(12.34,-5.57),(12.45,-5.86),(12.53,-6.02),(12.61,-5.57),(12.72,-5.49),(12.83,-5.73),(12.94,-6.15),(13.05,-5.9),(13.16,-5.86),(13.27,-5.9),(13.37,-6.15),(13.48,-6.27),(13.59,-6.06),(13.7,-6.02),(13.81,-5.53),(13.92,-5.73),(14.03,-5.9),(14.14,-5.98),(14.25,-6.06)]
BL_O_NAVY_L = [(7.48,-5.79),(7.53,-6.06),(7.59,-5.98),(7.67,-6.02),(7.75,-5.82),(7.82,-5.57),(7.86,-5.4),(7.92,-5.65),(7.97,-5.53),(8.03,-5.34),(8.11,-5.53),(8.19,-5.71),(8.27,-5.96),(8.35,-5.77),(8.43,-5.69),(8.54,-5.44),(8.63,-5.69),(8.73,-5.53),(8.84,-5.28),(8.95,-5.4),(9.04,-5.61),(9.12,-5.44),(9.23,-5.49),(9.31,-5.24),(9.39,-5.28),(9.5,-5.16),(9.61,-5.28),(9.72,-5.2),(9.8,-5.65),(9.88,-5.36),(9.99,-5.24),(10.1,-5.36),(10.21,-5.49),(10.32,-5.44),(10.4,-5.57),(10.47,-5.03),(10.54,-5.73),(10.6,-6.19),(10.67,-5.98),(10.75,-5.86),(10.82,-5.12),(10.89,-5.24),(10.96,-5.12),(11.02,-4.99),(11.08,-5.44),(11.18,-6.23),(11.25,-5.65),(11.33,-5.65),(11.41,-5.86),(11.52,-5.98),(11.6,-5.9),(11.66,-6.39),(11.71,-6.76),(11.79,-6.72),(11.89,-6.89),(11.96,-6.56),(12.04,-6.43),(12.12,-6.52),(12.2,-6.48),(12.26,-6.31),(12.34,-6.23),(12.39,-6.97),(12.44,-7.26),(12.49,-6.48),(12.56,-5.86),(12.64,-6.06),(12.72,-6.1),(12.77,-6.72),(12.83,-5.53),(12.91,-5.32),(12.99,-5.4),(13.07,-5.12),(13.16,-4.99),(13.24,-5.28),(13.32,-4.95),(13.43,-5.61),(13.51,-5.24),(13.59,-4.99),(13.68,-5.57),(13.76,-5.4),(13.84,-4.74),(13.92,-4.95),(14.03,-5.32),(14.1,-4.87),(14.17,-4.66),(14.25,-4.58),(14.3,-4.29),(14.36,-4.08),(14.38,-3.86)]
BL_O_LBLUE_L = [(12.53,-5.82),(12.61,-6.48),(12.67,-5.94),(12.75,-6.23),(12.83,-5.86),(12.91,-6.02),(12.99,-5.9),(13.05,-6.48),(13.09,-7.14),(13.16,-6.89),(13.21,-6.27),(13.28,-5.94),(13.35,-6.35),(13.42,-5.73),(13.48,-6.27),(13.57,-5.86),(13.65,-6.23),(13.73,-5.65),(13.81,-5.82),(13.89,-5.44),(13.98,-5.65),(14.06,-5.98),(14.11,-6.35),(14.18,-5.86),(14.25,-5.9),(14.33,-6.1),(14.38,-5.86),(14.44,-5.44),(14.48,-5.16)]
BL_O_LBLUE_R = [(32.75,-5.77),(32.8,-6.09),(32.87,-6.17),(32.96,-6.18),(33.05,-6.09),(33.1,-6.06),(None,None),
                (33.23,-5.02),(33.3,-5.17),(33.37,-4.77),(33.44,-4.59),(33.52,-4.7),(33.59,-4.59),(None,None),
                (35.02,-4.92),(35.07,-5.31),(35.13,-4.92),(35.16,-4.24),(None,None),
                (37.58,-5.2),(37.67,-5.42),(37.76,-4.92),(37.85,-5.45),(37.94,-5.09),(None,None),
                (41.79,-5.22),(41.88,-4.95),(41.97,-5.09),(42.06,-4.99),(42.15,-5.06),(42.27,-5.04),(None,None),
                (43.13,-5.09),(43.19,-5.52),(43.26,-6.34),(43.31,-5.99),(43.37,-5.67),(43.44,-5.59),(43.51,-5.02),(None,None),
                (46.59,-4.95),(46.63,-5.38),(46.68,-5.63)]
BL_O_TEAL_R = [(36.99,-5.67),(37.04,-3.88),(37.13,-4.74),(37.22,-4.45),(37.31,-4.2),(37.42,-4.02),(37.49,-4.31),(None,None),
               (48.74,-5.06),(48.86,-4.88),(48.95,-4.42),(49.04,-4.74),(49.13,-5.27),(49.22,-4.95),(49.35,-4.74),(49.45,-4.99),(49.58,-5.27),(49.71,-5.52),(49.81,-5.27),(49.94,-5.02),(None,None),
               (50.47,-5.06),(50.56,-5.56),(50.65,-4.92),(50.78,-5.52),(50.89,-5.09),(51.01,-5.38),(51.14,-5.74),(51.25,-6.02),(51.37,-5.52),(51.5,-5.95),(51.64,-6.31),(51.76,-5.63),(51.87,-5.27),(51.99,-5.52),(52.14,-5.02),(52.27,-5.59),(52.39,-5.38),(52.54,-5.63),(52.64,-6.27),(52.75,-5.95),(52.86,-5.59),(52.98,-5.17),(53.11,-4.88),(53.22,-4.59),(53.3,-4.38),(53.39,-4.63),(53.52,-4.77),(None,None),
               (56.62,-4.92),(56.71,-5.38),(56.8,-5.09),(56.92,-4.81),(57.01,-5.02),(57.16,-5.27),(57.28,-5.09),(57.41,-5.45),(57.55,-5.27),(57.69,-5.38),(57.82,-5.59),(57.91,-5.45),(58.03,-5.84)]
BL_O_NAVY_R = [(33.37,-4.61),(33.46,-4.52),(33.64,-4.49),(33.82,-4.43),(33.91,-4.49),(34.09,-4.31),(34.27,-4.17),(34.41,-4.17),(34.54,-4.29),(34.66,-4.17),(34.81,-3.99),(34.95,-3.83),(None,None),
               (37.17,-4.42),(37.31,-4.31),(37.46,-4.13),(37.58,-4.02),(37.67,-4.31),(37.78,-4.45),(37.89,-4.92),(37.99,-4.99),(38.08,-4.74),(38.14,-4.59),(None,None),
               (50.53,-4.92),(50.65,-4.52),(50.78,-4.92),(50.89,-4.7),(51.01,-5.27),(51.14,-5.49),(51.25,-5.63),(51.37,-5.42),(51.5,-5.27),(51.64,-5.09),(51.73,-4.84),(51.82,-5.17),(51.99,-5.27),(None,None),
               (53.34,-4.88),(53.47,-4.59),(53.58,-4.81),(53.7,-5.02),(53.82,-4.74),(53.97,-4.56),(54.11,-5.02),(54.25,-4.92),(54.36,-5.17),(54.5,-4.95),(54.61,-5.45),(54.72,-4.99),(54.83,-5.09),(54.95,-4.92),(55.08,-4.77),(55.22,-5.06),(55.36,-4.92),(55.47,-5.02),(None,None),
               (56.92,-5.2),(57.05,-5.02),(57.19,-5.17),(57.34,-5.24),(57.46,-5.49),(57.59,-5.17),(57.73,-5.38),(57.87,-5.06),(58.0,-5.27),(58.12,-5.09),(58.23,-5.52),(58.3,-5.95),(58.39,-5.45),(58.48,-5.63),(58.59,-5.38),(58.71,-5.74),(58.84,-5.45),(58.98,-5.88),(59.11,-5.52),(59.2,-5.67),(59.3,-5.27),(59.39,-5.99),(59.47,-5.63)]

# Interstadial (D/O) bands and labels, Younger Dryas
DO_BANDS = [(30.56,32.49),(33.35,33.74),(34.75,35.50),(36.53,38.15),(39.88,40.16),(40.77,41.41),(42.23,43.29),(44.24,46.80),(48.28,49.20),(49.54,54.20),(54.87,55.79),(56.49,58.25),(58.55,59.42)]
DO_LABELS = ["5","6","7","8","9","10","11","12","13","14","15","16","17"]
DO_LABEL_AGES = [31.42,33.63,35.15,37.42,40.02,41.25,43.02,45.73,48.78,52.07,55.52,57.38,59.25]
YD_BAND = (11.68, 12.91)

LEFT_TICKS = [5, 8, 10, 12, 14]
LEFT_MINOR = [6.5, 9, 11, 13]
RIGHT_TICKS = [35, 40, 45, 50, 55, 60]
RIGHT_MINOR = [37.5, 42.5, 47.5, 52.5, 57.5]

# ---------------- STYLE ----------------
W, H = 2965, 3021
FONT = "Arial, 'Liberation Sans', sans-serif"
BLUE = '#2B42FF'
NAVY = '#000080'
MAROON = '#800000'
ORANGE = '#FF6600'
RED_D = '#CC0000'
RED_B = '#FF0000'
BROWN = '#4D0B0B'
TEAL = '#1E7AB8'
LBLUE = '#66B2FF'
PINK = '#FDE1E1'
YDCOL = '#E8F0F9'

def px(x):
    return x / W

def py(y):
    return 1 - y / H

def xy(pairs):
    return [p[0] for p in pairs], [p[1] for p in pairs]

fig = go.Figure()

def add(pairs, xa, ya, color, width):
    xs, ys = xy(pairs)
    fig.add_trace(go.Scatter(x=xs, y=ys, xaxis=xa, yaxis=ya, mode='lines',
                             line=dict(color=color, width=width), showlegend=False,
                             hoverinfo='skip', connectgaps=False))

add(NGRIP_LEFT, 'x', 'y', BLUE, 5)
add(NGRIP_RIGHT, 'x2', 'y', BLUE, 5)
add(NALPS, 'x2', 'y2', NAVY, 3.5)
add(BU2, 'x2', 'y3', MAROON, 3)
add(ELSA_LEFT, 'x', 'y4', ORANGE, 2.5)
add(ELSA_RIGHT, 'x2', 'y4', ORANGE, 2.5)
add(BL_C_RED_L, 'x', 'y5', RED_D, 2.5)
add(BL_C_BROWN_L, 'x', 'y5', BROWN, 3)
add(BL_C_BRED_L, 'x', 'y5', RED_B, 3)
add(BL_C_RED_R, 'x2', 'y5', RED_D, 3)
add(BL_C_BROWN_R, 'x2', 'y5', BROWN, 3)
add(BL_C_BRED_R, 'x2', 'y5', RED_B, 3)
add(BL_O_TEAL_L, 'x', 'y6', TEAL, 2.5)
add(BL_O_NAVY_L, 'x', 'y6', NAVY, 3)
add(BL_O_LBLUE_L, 'x', 'y6', LBLUE, 3)
add(BL_O_TEAL_R, 'x2', 'y6', TEAL, 2.5)
add(BL_O_NAVY_R, 'x2', 'y6', NAVY, 3)
add(BL_O_LBLUE_R, 'x2', 'y6', LBLUE, 3)

# invisible traces so the top axes render
fig.add_trace(go.Scatter(x=[5], y=[-40], xaxis='x3', yaxis='y', mode='markers',
                         marker=dict(opacity=0), showlegend=False, hoverinfo='skip'))
fig.add_trace(go.Scatter(x=[35], y=[-40], xaxis='x4', yaxis='y', mode='markers',
                         marker=dict(opacity=0), showlegend=False, hoverinfo='skip'))

# ---------------- AXES ----------------
X_BOT = py(2810)
X_TOP = py(187)
XL_DOM = [px(493), px(1264)]
XR_DOM = [px(1297), px(2472)]
AXW = 7

def xaxis(dom, rng, tv, mtv, pos, side, standoff, overlay=None):
    d = dict(domain=dom, range=rng, anchor='free', position=pos, side=side, automargin=False,
             showline=True, linewidth=AXW, linecolor='black',
             ticks='outside', ticklen=28, tickwidth=6, tickcolor='black',
             tickmode='array', tickvals=tv, ticktext=[str(v) for v in tv],
             tickfont=dict(size=72, color='black', family=FONT),
             minor=dict(tickmode='array', tickvals=mtv, ticks='outside', ticklen=14,
                        tickwidth=6, tickcolor='black', showgrid=False),
             showgrid=False, zeroline=False, ticklabelstandoff=standoff, fixedrange=True)
    if overlay:
        d['overlaying'] = overlay
    return d

YL = px(453)
YR = px(2516)

def yaxis(dom, rng, tv, tt, mtv, pos, side, color, standoff, typ='linear'):
    return dict(domain=dom, range=rng, type=typ, anchor='free', position=pos, side=side, automargin=False,
                showline=True, linewidth=AXW, linecolor=color,
                ticks='outside', ticklen=36, tickwidth=6, tickcolor=color,
                tickmode='array', tickvals=tv, ticktext=tt,
                tickfont=dict(size=88, color=color, family=FONT),
                minor=dict(tickmode='array', tickvals=mtv, ticks='outside', ticklen=18,
                           tickwidth=6, tickcolor=color, showgrid=False),
                showgrid=False, zeroline=False, ticklabelstandoff=standoff, fixedrange=True)

M = '\u2212'
layout = dict(
    width=W, height=H, margin=dict(l=0, r=0, t=0, b=0, pad=0, autoexpand=False), autosize=False,
    paper_bgcolor='white', plot_bgcolor='rgba(0,0,0,0)',
    font=dict(family=FONT, color='black'),
    showlegend=False,
    xaxis=xaxis(XL_DOM, [5, 15], LEFT_TICKS, LEFT_MINOR, X_BOT, 'bottom', -8),
    xaxis2=xaxis(XR_DOM, [30, 60], RIGHT_TICKS, RIGHT_MINOR, X_BOT, 'bottom', -8),
    xaxis3=xaxis(XL_DOM, [5, 15], LEFT_TICKS, LEFT_MINOR, X_TOP, 'top', 8, overlay='x'),
    xaxis4=xaxis(XR_DOM, [30, 60], RIGHT_TICKS, RIGHT_MINOR, X_TOP, 'top', 8, overlay='x2'),
    yaxis=yaxis([py(826.6), py(186.6)], [-46, -33], [-33, -36, -39, -42, -46],
                ['-33', '-36', '-39', '-42', '-46'], [-34.5, -37.5, -40.5, -44], YL, 'left', BLUE, 0),
    yaxis2=yaxis([py(1146.5), py(648)], [-11.5, -6.97], [-7, -8, -9, -10, -11],
                 [M + '7', M + '8', M + '9', M + '10', M + '11'], [-7.5, -8.5, -9.5, -10.5, -11.5], YR, 'right', NAVY, 0),
    yaxis3=yaxis([py(1545), py(1050)], [-5, -11], [-11, -9, -7, -5],
                 ['-11', '-9', '-7', '-5'], [-10, -8, -6], YL, 'left', MAROON, 0),
    yaxis4=yaxis([py(1892), py(1391)], [-0.30103, 1.30103], [1, 10, 20],
                 ['1', '10', '20'], [0.5], YR, 'right', ORANGE, 0, typ='log'),
    yaxis5=yaxis([py(2378), py(1735.4)], [-1, -10], [-10, -8, -6, -4, -2],
                 [M + '10', M + '8', M + '6', M + '4', M + '2'], [-9, -7, -5, -3, -1], YL, 'left', MAROON, 0),
    yaxis6=yaxis([py(2796), py(2152)], [-3.5, -7.5], [-7, -6, -5, -4],
                 [M + '7', M + '6', M + '5', M + '4'], [-7.5, -6.5, -5.5, -4.5, -3.5], YR, 'right', NAVY, 0),
)
fig.update_layout(**layout)

# ---------------- SHAPES ----------------
shapes = []
for a0, a1 in DO_BANDS:
    shapes.append(dict(type='rect', xref='x2', yref='paper', x0=a0, x1=a1, y0=X_BOT, y1=X_TOP,
                       fillcolor=PINK, line=dict(width=0), layer='below'))
shapes.append(dict(type='rect', xref='x', yref='paper', x0=YD_BAND[0], x1=YD_BAND[1], y0=X_BOT, y1=X_TOP,
                   fillcolor=YDCOL, line=dict(width=0), layer='below'))
shapes.append(dict(type='rect', xref='paper', yref='paper', x0=px(530), x1=px(1228.5), y0=py(2753), y1=py(1721),
                   line=dict(color='#707070', width=3, dash='dash'), fillcolor='rgba(0,0,0,0)', layer='above'))
for (x0, y0, x1, y1) in [(1244, 217, 1272, 161), (1281, 217, 1309, 161),
                         (1247, 2787, 1277, 2858), (1281, 2787, 1312, 2858)]:
    shapes.append(dict(type='line', xref='paper', yref='paper', x0=px(x0), y0=py(y0), x1=px(x1), y1=py(y1),
                       line=dict(color='black', width=6)))
shapes.append(dict(type='rect', xref='paper', yref='paper', x0=px(44), x1=px(1404), y0=py(10), y1=py(0),
                   fillcolor='black', line=dict(width=0)))
shapes.append(dict(type='line', xref='paper', yref='paper', x0=px(2), x1=px(2), y0=0, y1=1,
                   line=dict(color='black', width=3)))
shapes.append(dict(type='line', xref='paper', yref='paper', x0=px(2960), x1=px(2960), y0=0, y1=1,
                   line=dict(color='black', width=3)))
fig.update_layout(shapes=shapes)

# ---------------- ANNOTATIONS ----------------
ann = []

def note(text, x, y, size, color, angle=0, xref='paper', xanchor='center'):
    ann.append(dict(text=text, x=x, y=y, xref=xref, yref='paper', showarrow=False,
                    font=dict(size=size, color=color, family=FONT), textangle=angle,
                    xanchor=xanchor, yanchor='middle'))

for lab, age in zip(DO_LABELS, DO_LABEL_AGES):
    note(lab, age, py(261), 50, '#111111', xref='x2')
note('YD', 12.22, py(261), 50, '#111111', xref='x')
note('D/O', px(2595), py(261), 50, '#111111')

note('a', px(495), py(366), 72, BLUE)
note('b', px(2479), py(1080), 72, NAVY)
note('c', px(495), py(1126), 72, '#3D0A0A')
note('d', px(2481), py(1457), 72, '#FF8C00')
note('e', px(495), py(1789), 72, '#3D0A0A')
note('f', px(2469), py(2311), 72, NAVY)

TS = 78
note('NGRIP', px(82), py(506), TS, BLUE, -90)
note('\u03b4<sup>18</sup>O [\u2030 VSMOW]', px(192), py(506), TS, BLUE, -90)
note('Bu2', px(106), py(1296), TS, MAROON, -90)
note('\u03b4<sup>13</sup>C [\u2030 VPDB]', px(215), py(1298), TS, MAROON, -90)
note('Ble\u00dfberg flowstones', px(106), py(2056), TS, MAROON, -90)
note('\u03b4<sup>13</sup>C [\u2030 VPDB]', px(213), py(2058), TS, MAROON, -90)
note('\u03b4<sup>18</sup>O [\u2030 VPDB]', px(2774), py(900), TS, NAVY, -90)
note('NALPS', px(2884), py(900), TS, NAVY, -90)
note('C<sub>org</sub> (chlorines) [%]', px(2765), py(1642), TS, ORANGE, -90)
note('ELSA-20', px(2874), py(1638), TS, ORANGE, -90)
note('\u03b4<sup>18</sup>O [\u2030 VPDB]', px(2765), py(2441), TS, NAVY, -90)
note('Ble\u00dfberg flowstones', px(2861), py(2441), TS, NAVY, -90)

note('Age [ka]', px(1482), py(2978), 76, 'black')
note('preliminary data', px(550), py(2719), 50, '#808080', xanchor='left')

fig.update_layout(annotations=ann)

fig.write_html("out.html", config={'displayModeBar': False},
               post_script="document.body.style.margin='0';")
